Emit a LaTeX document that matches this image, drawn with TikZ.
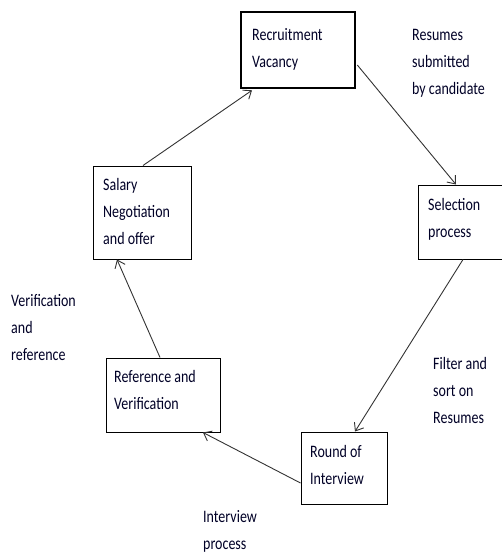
\documentclass[tikz,border=0pt]{standalone}
\usepackage{fontspec}
\setmainfont{Carlito}[FakeStretch=0.8]
\usetikzlibrary{arrows.meta}
\begin{document}
\begin{tikzpicture}[x=1pt,y=-1pt,
  box/.style={draw=black,line width=1pt,rectangle,inner sep=0pt},
  txt/.style={anchor=base west,inner sep=0pt,align=left,text=black!85!blue,
    font=\fontsize{17.5}{27}\selectfont},
  conn/.style={draw=black!80,line width=0.9pt,-{Straight Barb[length=7pt,width=11pt]}}]
\useasboundingbox (0,0) rectangle (502,554);
% boxes
\node[box,line width=2.6pt,minimum width=114pt,minimum height=76pt] (rv) at (298,50) {};
\node[box,minimum width=87pt,minimum height=74pt] (sel) at (461.5,222) {};
\node[box,minimum width=98pt,minimum height=93pt] (sal) at (142,212.5) {};
\node[box,minimum width=114pt,minimum height=74pt] (ref) at (163,395) {};
\node[box,minimum width=86pt,minimum height=72pt] (rnd) at (344,468) {};
% box texts (anchored at the baseline of the last line)
\node[txt] (trv) at (252,67) {Recruitment\\Vacancy};
\node[txt] (tsel) at (428,237) {Selection\\process};
\node[txt] (tsal) at (103,244) {Salary\\Negotiation\\and offer};
\node[txt] (tref) at (114,409) {Reference and\\Verification};
\node[txt] (trnd) at (310,484) {Round of\\Interview};
% labels
\node[txt] (l1) at (412,94) {Resumes\\submitted\\by candidate};
\node[txt] (l2) at (433,423) {Filter and\\sort on\\Resumes};
\node[txt] (l3) at (203,549) {Interview\\process};
\node[txt] (l4) at (11,360) {Verification\\and\\reference};
% connectors
\draw[conn] ([xshift=1pt]sal.north) -- ([xshift=-46pt,yshift=-1pt]rv.south);
\draw[conn] ([yshift=-15pt,xshift=1pt]rv.east) -- ([xshift=-5.5pt]sel.north);
\draw[conn] ([xshift=1.5pt]sel.south) -- ([xshift=11pt]rnd.north);
\draw[conn] ([yshift=-15pt]rnd.west) -- ([xshift=40pt]ref.south);
\draw[conn] ([xshift=-3pt]ref.north) -- ([xshift=-25pt]sal.south);
\end{tikzpicture}
\end{document}
